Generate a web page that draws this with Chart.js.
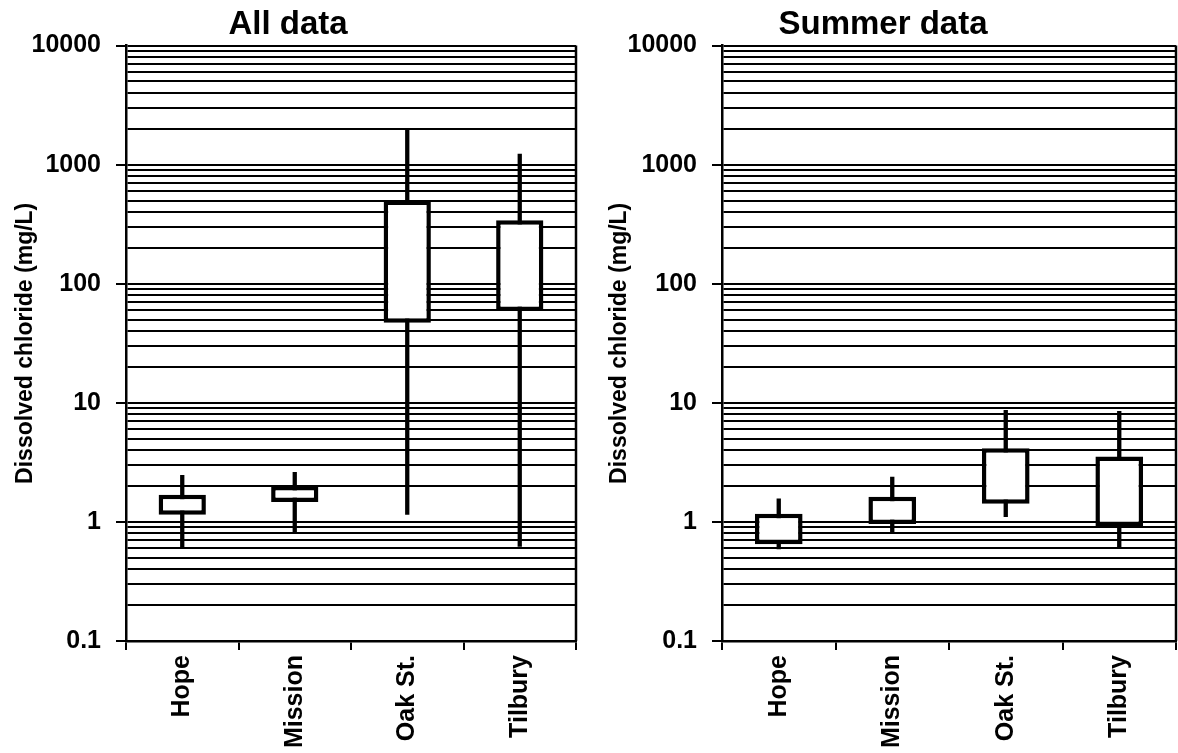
<!DOCTYPE html>
<html>
<head>
<meta charset="utf-8">
<script src="https://cdn.jsdelivr.net/npm/chart.js@4/dist/chart.umd.min.js"></script>
<style>
  html, body { margin: 0; padding: 0; background: #fff; }
  body { width: 1178px; height: 753px; position: relative; overflow: hidden; }
  canvas { position: absolute; top: 0; }
  #allChart { left: 0; }
  #summerChart { left: 590px; }
</style>
</head>
<body>
<canvas id="allChart" width="580" height="753"></canvas>
<canvas id="summerChart" width="588" height="753"></canvas>
<script>
/* ===== DATA ===== */
const categories = ["Hope", "Mission", "Oak St.", "Tilbury"];

// all data: whisker ends and box (quartile) edges, mg/L
const allMin = [0.6, 0.81, 1.15, 0.62];
const allQ1  = [1.15, 1.47, 47, 59];
const allQ3  = [1.69, 2.0, 500, 342];
const allMax = [2.48, 2.63, 2000, 1235];

// summer data
const summerMin = [0.59, 0.79, 1.1, 0.61];
const summerQ1  = [0.65, 0.96, 1.42, 0.92];
const summerQ3  = [1.17, 1.63, 4.15, 3.55];
const summerMax = [1.57, 2.4, 8.7, 8.55];

// y axis ticks
const decadeTicks = [0.1, 1, 10, 100, 1000, 10000];
const minorSteps = [1, 2, 3, 4, 5, 6, 7, 8, 9];

Chart.defaults.font.family = "'Liberation Sans', Arial, sans-serif";
Chart.defaults.font.weight = "bold";
Chart.defaults.color = "#000";

function gridValues() {
    const vals = [];
    decadeTicks.forEach((d, i) => {
        if (i === decadeTicks.length - 1) { vals.push(d); return; }
        minorSteps.forEach(m => vals.push(d * m));
    });
    return vals;
}

/* ===== FRAME PLUGIN (right border) ===== */
const framePlugin = {
    id: "frame",
    afterDraw(chart) {
        const { ctx, chartArea: a } = chart;
        ctx.save();
        ctx.strokeStyle = "#000";
        ctx.lineWidth = 2.5;
        ctx.beginPath();
        ctx.moveTo(a.right, a.top);
        ctx.lineTo(a.right, a.bottom);
        ctx.stroke();
        ctx.restore();
    }
};

function makeChart(id, title, lo, q1, q3, hi, yWidth, titlePad, padRight) {
    return new Chart(document.getElementById(id), {
        type: "bar",
        data: {
            labels: categories,
            datasets: [
                {
                    // boxes drawn on top
                    data: categories.map((c, i) => [q1[i], q3[i]]),
                    backgroundColor: "#fff",
                    borderColor: "#000",
                    borderWidth: 4.5,
                    borderSkipped: false,
                    barPercentage: 0.42,
                    categoryPercentage: 1,
                    grouped: false
                },
                {
                    // whiskers
                    data: categories.map((c, i) => [lo[i], hi[i]]),
                    backgroundColor: "#000",
                    borderWidth: 0,
                    barPercentage: 0.038,
                    categoryPercentage: 1,
                    grouped: false
                }
            ]
        },
        options: {
            responsive: false,
            animation: false,
            layout: { padding: { top: 0, right: padRight, left: 0, bottom: 0 } },
            plugins: {
                legend: { display: false },
                tooltip: { enabled: false },
                title: {
                    display: true,
                    text: title,
                    color: "#000",
                    font: { size: 33, weight: "bold" },
                    padding: { top: 5, bottom: 1 }
                }
            },
            scales: {
                x: {
                    grid: {
                        drawOnChartArea: false,
                        color: "#000",
                        lineWidth: 2,
                        tickLength: 9
                    },
                    border: { color: "#000", width: 2.5 },
                    ticks: {
                        minRotation: 90,
                        maxRotation: 90,
                        padding: 5,
                        font: { size: 25, weight: "bold" }
                    },
                    afterFit(scale) { scale.height = 112; }
                },
                y: {
                    type: "logarithmic",
                    min: 0.1,
                    max: 10000,
                    afterBuildTicks(scale) {
                        scale.ticks = gridValues().map(v => ({ value: v, major: decadeTicks.includes(v) }));
                    },
                    afterFit(scale) { scale.width = yWidth; },
                    grid: {
                        color: "#000",
                        lineWidth: 2,
                        tickLength: 10,
                        tickColor: ctx => (ctx.tick && decadeTicks.includes(ctx.tick.value)) ? "#000" : "rgba(0,0,0,0)"
                    },
                    border: { color: "#000", width: 2.5 },
                    ticks: {
                        autoSkip: false,
                        padding: 15,
                        font: { size: 25, weight: "bold" },
                        callback: v => decadeTicks.includes(v) ? String(v) : ""
                    },
                    title: {
                        display: true,
                        text: "Dissolved chloride (mg/L)",
                        color: "#000",
                        font: { size: 23, weight: "bold" },
                        padding: { top: titlePad, bottom: 0 }
                    }
                }
            }
        },
        plugins: [framePlugin]
    });
}

makeChart("allChart", "All data", allMin, allQ1, allQ3, allMax, 126, 12, 4);
makeChart("summerChart", "Summer data", summerMin, summerQ1, summerQ3, summerMax, 132, 16, 2);
</script>
</body>
</html>
